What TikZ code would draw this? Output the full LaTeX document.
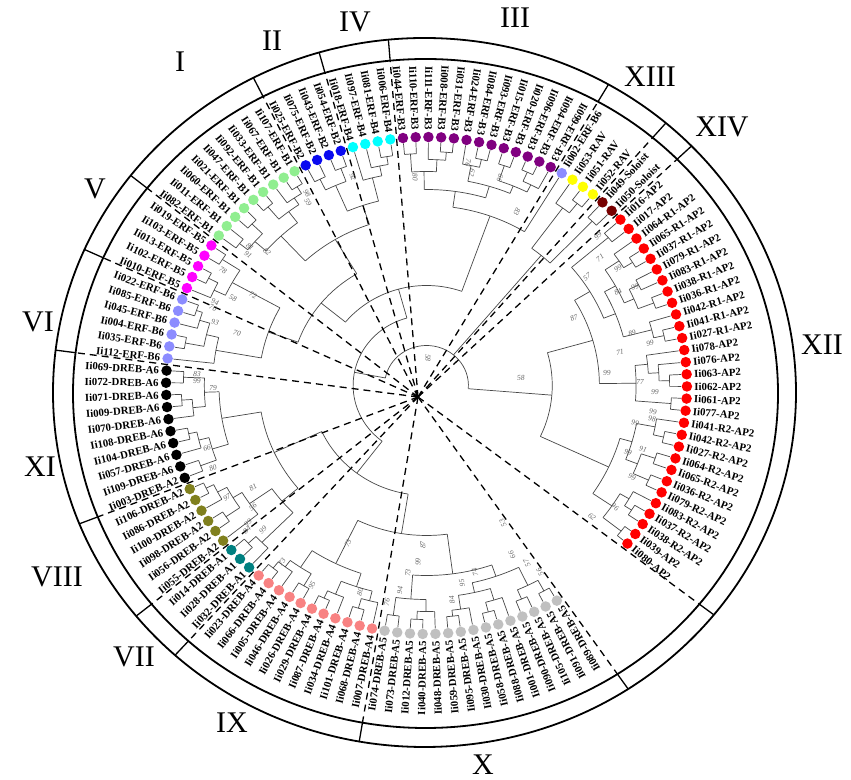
\documentclass[tikz,border=0pt]{standalone}
\usepackage{fontspec}
\setmainfont{Liberation Serif}
\usetikzlibrary{calc,intersections}
\definecolor{cR}{RGB}{255,0,0}
\definecolor{cDR}{RGB}{120,0,0}
\definecolor{cY}{RGB}{255,255,0}
\definecolor{cLv}{RGB}{140,140,255}
\definecolor{cP}{RGB}{128,0,128}
\definecolor{cC}{RGB}{0,255,255}
\definecolor{cB}{RGB}{10,10,240}
\definecolor{cG}{RGB}{144,238,144}
\definecolor{cM}{RGB}{255,0,255}
\definecolor{cK}{RGB}{0,0,0}
\definecolor{cO}{RGB}{128,128,30}
\definecolor{cT}{RGB}{0,128,128}
\definecolor{cS}{RGB}{248,130,130}
\definecolor{cGr}{RGB}{192,192,192}
\tikzset{
  br/.style={line width=0.7pt, draw=black!72},
  dot/.style={circle, inner sep=0pt, minimum size=10.5pt, draw=none},
  lab/.style={font=\bfseries\fontsize{10.8}{10.8}\selectfont, inner sep=0pt},
  roman/.style={font=\fontsize{30}{30}\selectfont, inner sep=0pt},
  ring/.style={line width=1.8pt},
  dline/.style={line width=1.3pt, dash pattern=on 7pt off 5pt},
  tickline/.style={line width=1.3pt},
  boot/.style={font=\itshape\fontsize{7.5}{7.5}\selectfont, text=black!60, inner sep=0pt},
}
\def\leafr{243}
\newcommand\J[3]{%
  \foreach \ch [count=\k] in {#3}{%
    \ifnum\k=1 \xdef\Jf{\ch}\fi
    \xdef\Jl{\ch}%
    \edef\Jta{\csname TA\ch\endcsname}\edef\Jtr{\csname TR\ch\endcsname}%
    \draw[br] (\Jta:#2pt) -- (\Jta:\Jtr pt);
  }%
  \edef\Jaf{\csname TA\Jf\endcsname}\edef\Jal{\csname TA\Jl\endcsname}%
  \pgfmathsetmacro\Jam{(\Jaf+\Jal)/2}%
  \draw[br] (\Jaf:#2pt) arc[start angle=\Jaf, end angle=\Jal, radius=#2pt];
  \expandafter\xdef\csname TA#1\endcsname{\Jam}%
  \expandafter\xdef\csname TR#1\endcsname{#2}%
}
\begin{document}
\begin{tikzpicture}[x=1pt,y=1pt]
\useasboundingbox (0,0) rectangle (851,779);
\fill[white] (0,0) rectangle (851,779);
\draw[ring] (424.5,386.5) ellipse[x radius=371.5pt, y radius=354.5pt];
\draw[ring] (425.5,385.5) ellipse[x radius=352.5pt, y radius=334.5pt];
\path[name path=inner] (425.5,385.5) ellipse[x radius=352.5pt, y radius=334.5pt];
\path[name path=outer] (424.5,386.5) ellipse[x radius=371.5pt, y radius=354.5pt];
\coordinate (S) at (418,382);
\begin{scope}[shift={(426.5,393.5)}, xscale=1.048]
\foreach \i in {0,...,121}{%
  \pgfmathsetmacro\tha{320.5+\i*2.806}%
  \expandafter\xdef\csname TA\i\endcsname{\tha}%
  \expandafter\xdef\csname TR\i\endcsname{\leafr}%
}
% AP2
\J{a1}{236}{0,1}
\J{a2}{232}{2,3}
\J{a3}{224}{a2,4}
\J{a4}{214}{a1,a3}
\J{a5}{232}{5,6}
\J{a6}{230}{7,8}
\J{a7}{216}{a5,a6}
\J{a8}{232}{9,10}
\J{a9}{222}{a8,11}
\J{a10}{204}{a7,a9}
\J{a11}{192}{a4,a10}
\J{b1}{234}{12,13}
\J{b2}{232}{14,15}
\J{b3}{222}{b2,16}
\J{b4}{212}{b3,17}
\J{b5}{200}{b1,b4}
\J{b6}{232}{18,19}
\J{b7}{222}{b6,20}
\J{b8}{232}{21,22}
\J{b9}{226}{23,24}
\J{b10}{216}{b8,b9}
\J{b11}{232}{25,26}
\J{b12}{222}{b11,27}
\J{b13}{206}{b10,b12}
\J{b14}{194}{b7,b13}
\J{b15}{228}{28,29}
\J{b16}{182}{b14,b15}
\J{b17}{165}{b5,b16}
\J{ap}{120}{a11,b17}
\J{sol}{228}{30,31}
\J{rv1}{232}{32,33}
\J{rv}{220}{rv1,34}
\J{q1}{170}{sol,rv}
\J{p1}{234}{37,38}
\J{p2}{224}{36,p1}
\J{p3}{232}{39,40}
\J{p4}{216}{p2,p3}
\J{p5}{232}{41,42}
\J{p6}{224}{p5,43}
\J{p7}{208}{p4,p6}
\J{p8}{234}{44,45}
\J{p9}{226}{p8,46}
\J{p10}{232}{47,48}
\J{p11}{214}{p9,p10}
\J{p12}{196}{p7,p11}
\J{h1}{180}{35,p12}
\J{c1}{232}{49,50}
\J{c2}{224}{c1,51}
\J{c3}{214}{c2,52}
\J{l1}{232}{53,54}
\J{l2}{230}{55,56}
\J{l3}{218}{l1,l2}
\J{h2}{190}{c3,l3}
\J{g1}{234}{57,58}
\J{g2}{226}{g1,59}
\J{g3}{234}{60,61}
\J{g4}{218}{g2,g3}
\J{g5}{232}{62,63}
\J{g6}{228}{64,65}
\J{g7}{218}{g5,g6}
\J{g8}{204}{g4,g7}
\J{h3}{170}{h2,g8}
\J{m1}{232}{66,67}
\J{m2}{234}{68,69}
\J{m3}{224}{m2,70}
\J{m4}{212}{m1,m3}
\J{v1}{232}{71,72}
\J{v2}{226}{v1,73}
\J{v3}{234}{74,75}
\J{v4}{216}{v2,v3}
\J{v5}{204}{v4,76}
\J{h4}{160}{m4,v5}
\J{h5}{130}{h3,h4}
\J{h6}{100}{h1,h5}
\J{k1}{232}{77,78}
\J{k2}{234}{79,80}
\J{k3}{224}{k2,81}
\J{k4}{212}{k1,k3}
\J{k5}{232}{82,83}
\J{k6}{224}{k5,84}
\J{k7}{230}{85,86}
\J{k8}{214}{k6,k7}
\J{k9}{198}{k4,k8}
\J{o1}{234}{87,88}
\J{o2}{226}{o1,89}
\J{o3}{232}{90,91}
\J{o4}{216}{o2,o3}
\J{o5}{206}{o4,92}
\J{t1}{232}{93,94}
\J{t2}{222}{t1,95}
\J{d1}{180}{o5,t2}
\J{d2}{160}{k9,d1}
\J{s1}{234}{96,97}
\J{s2}{226}{s1,98}
\J{s3}{232}{99,100}
\J{s4}{218}{s2,s3}
\J{s5}{234}{101,102}
\J{s6}{226}{s5,103}
\J{s7}{232}{104,105}
\J{s8}{222}{s7,106}
\J{s9}{212}{s6,s8}
\J{s10}{198}{s4,s9}
\J{r1}{232}{107,108}
\J{r2}{234}{109,110}
\J{r3}{226}{r2,111}
\J{r4}{214}{r1,r3}
\J{r5}{232}{112,113}
\J{r6}{226}{r5,114}
\J{r7}{234}{115,116}
\J{r8}{224}{r7,117}
\J{r9}{212}{r6,r8}
\J{r10}{232}{118,119}
\J{r11}{234}{120,121}
\J{r12}{222}{r10,r11}
\J{r13}{202}{r9,r12}
\J{r14}{190}{r4,r13}
\J{d3}{150}{s10,r14}
\J{d4}{110}{d2,d3}
\J{e1}{70}{h6,d4}
\J{root}{40}{ap,q1,e1}
% leaves: dots and labels
\foreach \i/\txt/\col in {
0/Ii080-AP2/cR,1/Ii039-AP2/cR,2/Ii038-R2-AP2/cR,3/Ii037-R2-AP2/cR,4/Ii083-R2-AP2/cR,
5/Ii079-R2-AP2/cR,6/Ii036-R2-AP2/cR,7/Ii065-R2-AP2/cR,8/Ii064-R2-AP2/cR,9/Ii027-R2-AP2/cR,
10/Ii042-R2-AP2/cR,11/Ii041-R2-AP2/cR,12/Ii077-AP2/cR,13/Ii061-AP2/cR,14/Ii062-AP2/cR,
15/Ii063-AP2/cR,16/Ii076-AP2/cR,17/Ii078-AP2/cR,18/Ii027-R1-AP2/cR,19/Ii041-R1-AP2/cR,
20/Ii042-R1-AP2/cR,21/Ii036-R1-AP2/cR,22/Ii038-R1-AP2/cR,23/Ii083-R1-AP2/cR,24/Ii079-R1-AP2/cR,
25/Ii037-R1-AP2/cR,26/Ii065-R1-AP2/cR,27/Ii064-R1-AP2/cR,28/Ii017-AP2/cR,29/Ii016-AP2/cR,
30/Ii050-Soloist/cDR,31/Ii049-Soloist/cDR,32/Ii052-RAV/cY,33/Ii051-RAV/cY,34/Ii053-RAV/cY,
35/Ii002-ERF-B6/cLv,36/Ii099-ERF-B3/cP,37/Ii094-ERF-B3/cP,38/Ii096-ERF-B3/cP,39/Ii020-ERF-B3/cP,
40/Ii015-ERF-B3/cP,41/Ii093-ERF-B3/cP,42/Ii084-ERF-B3/cP,43/Ii024-ERF-B3/cP,44/Ii031-ERF-B3/cP,
45/Ii008-ERF-B3/cP,46/Ii111-ERF-B3/cP,47/Ii110-ERF-B3/cP,48/Ii044-ERF-B3/cP,
49/Ii006-ERF-B4/cC,50/Ii081-ERF-B4/cC,51/Ii097-ERF-B4/cC,52/Ii018-ERF-B4/cC,
53/Ii054-ERF-B2/cB,54/Ii043-ERF-B2/cB,55/Ii075-ERF-B2/cB,56/Ii025-ERF-B2/cB,
57/Ii107-ERF-B1/cG,58/Ii067-ERF-B1/cG,59/Ii033-ERF-B1/cG,60/Ii092-ERF-B1/cG,61/Ii047-ERF-B1/cG,
62/Ii021-ERF-B1/cG,63/Ii060-ERF-B1/cG,64/Ii011-ERF-B1/cG,65/Ii082-ERF-B1/cG,
66/Ii019-ERF-B5/cM,67/Ii103-ERF-B5/cM,68/Ii013-ERF-B5/cM,69/Ii102-ERF-B5/cM,70/Ii010-ERF-B5/cM,
71/Ii022-ERF-B6/cLv,72/Ii085-ERF-B6/cLv,73/Ii045-ERF-B6/cLv,74/Ii004-ERF-B6/cLv,75/Ii035-ERF-B6/cLv,
76/Ii112-ERF-B6/cLv,77/Ii069-DREB-A6/cK,78/Ii072-DREB-A6/cK,79/Ii071-DREB-A6/cK,80/Ii009-DREB-A6/cK,
81/Ii070-DREB-A6/cK,82/Ii108-DREB-A6/cK,83/Ii104-DREB-A6/cK,84/Ii057-DREB-A6/cK,85/Ii109-DREB-A6/cK,
86/Ii003-DREB-A2/cK,87/Ii106-DREB-A2/cO,88/Ii086-DREB-A2/cO,89/Ii100-DREB-A2/cO,90/Ii098-DREB-A2/cO,
91/Ii056-DREB-A2/cO,92/Ii055-DREB-A2/cO,93/Ii014-DREB-A1/cT,94/Ii028-DREB-A1/cT,95/Ii032-DREB-A1/cT,
96/Ii023-DREB-A4/cS,97/Ii066-DREB-A4/cS,98/Ii005-DREB-A4/cS,99/Ii046-DREB-A4/cS,100/Ii026-DREB-A4/cS,
101/Ii029-DREB-A4/cS,102/Ii087-DREB-A4/cS,103/Ii034-DREB-A4/cS,104/Ii101-DREB-A4/cS,105/Ii068-DREB-A4/cS,
106/Ii007-DREB-A4/cS,107/Ii074-DREB-A5/cGr,108/Ii073-DREB-A5/cGr,109/Ii012-DREB-A5/cGr,110/Ii040-DREB-A5/cGr,
111/Ii048-DREB-A5/cGr,112/Ii059-DREB-A5/cGr,113/Ii095-DREB-A5/cGr,114/Ii030-DREB-A5/cGr,115/Ii058-DREB-A5/cGr,
116/Ii088-DREB-A5/cGr,117/Ii001-DREB-A5/cGr,118/Ii090-DREB-A5/cGr,119/Ii105-DREB-A5/cGr,120/Ii091-DREB-A5/cGr,
121/Ii089-DREB-A5/cGr}{%
  \pgfmathsetmacro\tha{320.5+\i*2.806}%
  \pgfmathsetmacro\tn{mod(\tha,360)}%
  \pgfmathtruncatemacro\isleft{(\tn>60)&&(\tn<305)}%
  \ifnum\isleft=1
    \pgfmathsetmacro\rot{\tha-180}\def\anch{east}%
  \else
    \pgfmathsetmacro\rot{\tha}\def\anch{west}%
  \fi
  \node[dot, fill=\col] (d\i) at (\tha:248.5pt) {};
  \node[lab, rotate=\rot, anchor=\anch] (t\i) at (\tha:255.5pt) {\txt};
}
\end{scope}
% group boundaries
\foreach \b [count=\n] in {29.5,31.5,35.5,48.5,52.5,56.5,65.5,70.5,76.5,86.5,92.5,95.5,106.5,121.5,-0.5}{%
  \pgfmathsetmacro\ba{320.5+\b*2.806}%
  \coordinate (P\n) at ($(426.5,393.5)+(\ba:260.5pt and 248.5pt)$);
  \path[name path=ray\n] (S) -- ($(S)!3!(P\n)$);
  \path[name intersections={of=inner and ray\n, by={Qi\n}}];
  \path[name intersections={of=outer and ray\n, by={Qo\n}}];
  \draw[dline] (S) -- (Qi\n);
  \draw[tickline] (Qi\n) -- (Qo\n);
}
% bootstrap values
\foreach \x/\y/\v [count=\n] in {598/236/99,600/258/71,587/277/57,618/268/99,618/292/84,635/287/99,
  632/333/89,620/352/71,650/343/99,607/373/99,640/382/77,655/392/99,653/412/99,652/419/98,
  635/423/99,628/452/99,643/449/91,632/477/99,615/507/96,592/517/62,574/318/87,521/378/58,428/358/58,
  415/177/80,353/177/92,307/193/98,308/202/59,468/163/76,472/173/62,500/178/66,517/212/83,
  250/247/81,248/255/91,267/252/82,223/270/78,233/298/58,253/295/72,215/302/94,213/308/70,
  215/322/93,237/333/70,197/374/83,197/381/99,213/388/79,
  207/448/66,213/468/80,227/497/97,253/487/81,253/507/56,248/523/99,247/530/84,263/530/99,
  282/562/73,312/585/95,348/543/73,360/592/80,387/602/76,400/590/94,408/573/73,418/562/99,
  423/545/87,452/600/84,462/583/95,475/572/74,512/555/66,527/563/57,540/572/56,503/523/53}{%
  \pgfmathsetmacro\bt{atan2(779-\y-393.5,(\x-426.5)/1.048)}%
  \pgfmathsetmacro\btn{mod(\bt+360,360)}%
  \pgfmathtruncatemacro\bl{(\btn>60)&&(\btn<305)}%
  \ifnum\bl=1 \pgfmathsetmacro\brot{\btn-180}\else\pgfmathsetmacro\brot{\btn}\fi
  \node[boot, rotate=\brot] (bs\n) at (\x,779-\y) {\v};
}
% roman numerals
\node[roman] (nI) at (180,717) {I};
\node[roman] (nII) at (272,738) {II};
\node[roman] (nIV) at (355,757) {IV};
\node[roman] (nIII) at (515,761) {III};
\node[roman] (nXIII) at (650,702) {XIII};
\node[roman] (nXIV) at (722,652) {XIV};
\node[roman] (nXII) at (822,434) {XII};
\node[roman] (nX) at (483,14) {X};
\node[roman] (nIX) at (232,56) {IX};
\node[roman] (nVII) at (134,122) {VII};
\node[roman] (nVIII) at (57,202) {VIII};
\node[roman] (nXI) at (40,312) {XI};
\node[roman] (nVI) at (38,457) {VI};
\node[roman] (nV) at (95,590) {V};
\end{tikzpicture}
\end{document}
